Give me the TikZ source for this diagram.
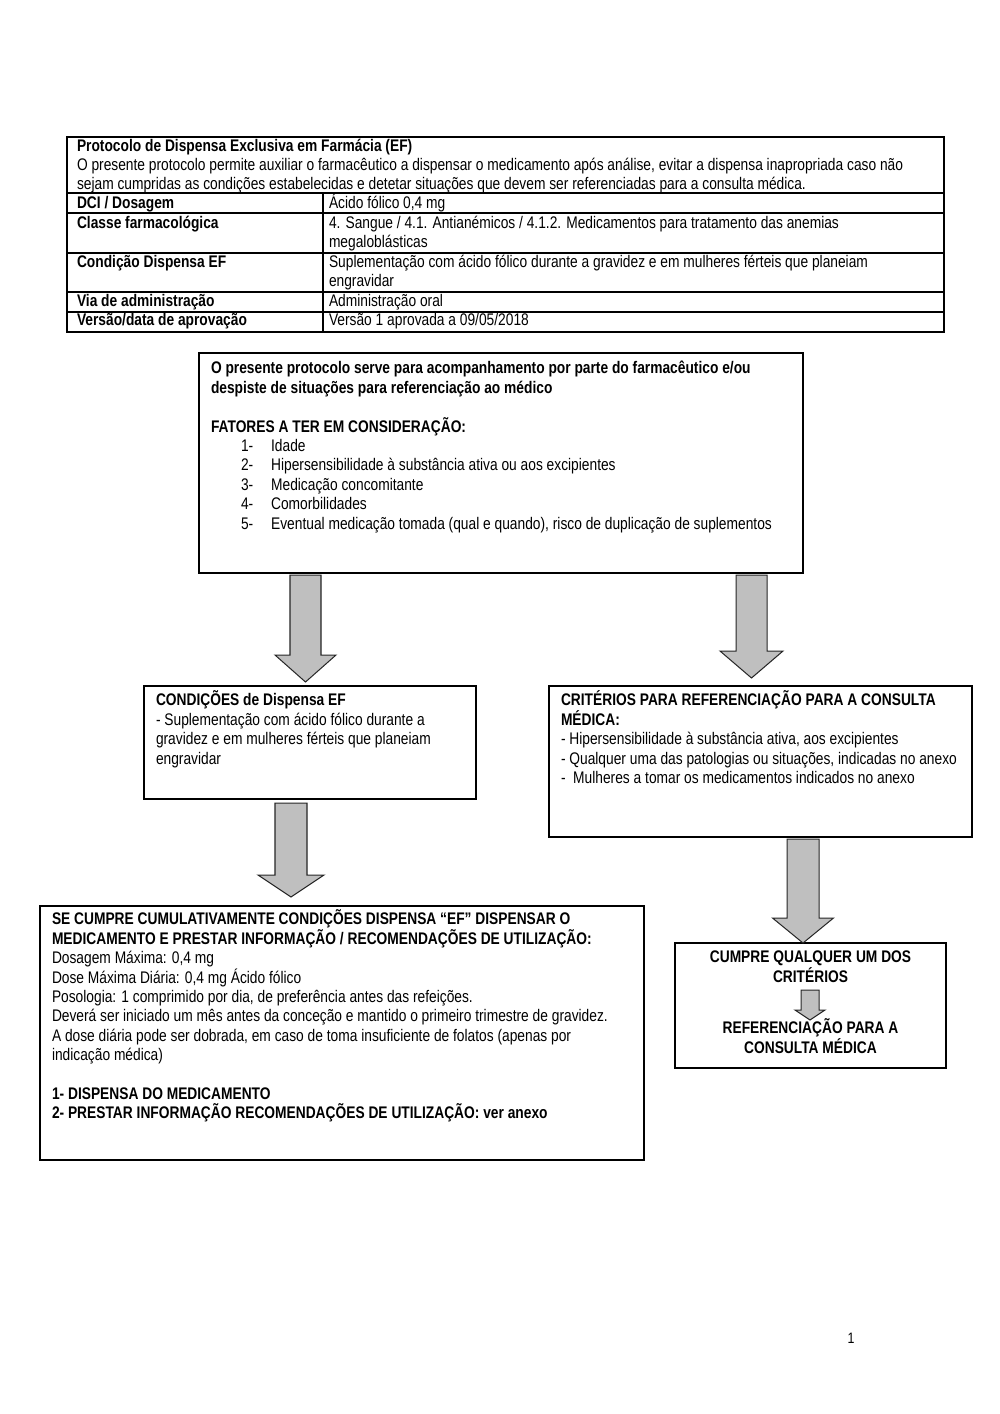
\documentclass[tikz,border=0pt]{standalone}
\usepackage{fontspec}
\setmainfont{Liberation Sans}[FakeStretch=0.82]
\usetikzlibrary{calc,fit}
\newcommand\fst{\rule{0pt}{10pt}}
\newcommand\blockarrow[5]{%
  \draw[barrow] ($(#1)+(-#3,0)$) -- ($(#1)+(#3,0)$) -- ($(#2)+(#3,-#5)$) -- ($(#2)+(#4,-#5)$)
    -- (#2) -- ($(#2)+(-#4,-#5)$) -- ($(#2)+(-#3,-#5)$) -- cycle;}
\begin{document}
\begin{tikzpicture}[x=0.5953pt,y=-0.5953pt,
  txt/.style={anchor=north west, inner sep=0pt, outer sep=0pt, align=left, font=\fontsize{10}{11.55}\selectfont},
  ctxt/.style={anchor=north, inner sep=0pt, outer sep=0pt, align=center, font=\fontsize{10}{11.55}\selectfont\bfseries},
  box/.style={draw=black, line width=0.7pt, inner sep=0pt, outer sep=0pt},
  tline/.style={draw=black, line width=0.7pt},
  barrow/.style={draw=black!85, line width=0.6pt, fill=gray!50, line join=miter}]
\useasboundingbox (0,0) rectangle (1000,1414);
\fill[white] (0,0) rectangle (1000,1414);

% ---------- table ----------
\node[box, fit={(67,137)(944,332)}] (tab) {};
\draw[tline] (67,193) -- (944,193);
\draw[tline] (67,213) -- (944,213);
\draw[tline] (67,253) -- (944,253);
\draw[tline] (67,292) -- (944,292);
\draw[tline] (67,312) -- (944,312);
\draw[tline] (323,193) -- (323,332);

\node[txt] (th) at (77,134.3) {\fst\textbf{Protocolo de Dispensa Exclusiva em Farmácia (EF)}\\
O presente protocolo permite auxiliar o farmacêutico a dispensar o medicamento após análise, evitar a dispensa inapropriada caso não\\
sejam cumpridas as condições estabelecidas e detetar situações que devem ser referenciadas para a consulta médica.};
\node[txt] (r1a) at (77,191.2) {\fst\textbf{DCI / Dosagem}};
\node[txt] (r1b) at (329,191.2) {\fst Ácido fólico 0,4 mg};
\node[txt] (r2a) at (77,211.7) {\fst\textbf{Classe farmacológica}};
\node[txt] (r2b) at (329,211.7) {\fst 4. Sangue / 4.1. Antianémicos / 4.1.2. Medicamentos para tratamento das anemias\\megaloblásticas};
\node[txt] (r3a) at (77,250.7) {\fst\textbf{Condição Dispensa EF}};
\node[txt] (r3b) at (329,250.7) {\fst Suplementação com ácido fólico durante a gravidez e em mulheres férteis que planeiam\\engravidar};
\node[txt] (r4a) at (77,289.7) {\fst\textbf{Via de administração}};
\node[txt] (r4b) at (329,289.7) {\fst Administração oral};
\node[txt] (r5a) at (77,308.7) {\fst\textbf{Versão/data de aprovação}};
\node[txt] (r5b) at (329,308.7) {\fst Versão 1 aprovada a 09/05/2018};

% ---------- boxes ----------
\node[box, fit={(199,353)(803,573)}] (b1) {};
\node[txt] (t1) at (211,357) {\fst\textbf{O presente protocolo serve para acompanhamento por parte do farmacêutico e/ou}\\
\textbf{despiste de situações para referenciação ao médico}\\
\\
\textbf{FATORES A TER EM CONSIDERAÇÃO:}\\
\hspace*{17.9pt}\makebox[17.9pt][l]{1-}Idade\\
\hspace*{17.9pt}\makebox[17.9pt][l]{2-}Hipersensibilidade à substância ativa ou aos excipientes\\
\hspace*{17.9pt}\makebox[17.9pt][l]{3-}Medicação concomitante\\
\hspace*{17.9pt}\makebox[17.9pt][l]{4-}Comorbilidades\\
\hspace*{17.9pt}\makebox[17.9pt][l]{5-}Eventual medicação tomada (qual e quando), risco de duplicação de suplementos};

\node[box, fit={(144,686)(476,799)}] (b2) {};
\node[txt] (t2) at (156,689) {\fst\textbf{CONDIÇÕES de Dispensa EF}\\
- Suplementação com ácido fólico durante a\\
gravidez e em mulheres férteis que planeiam\\
engravidar};

\node[box, fit={(549,686)(972,837)}] (b3) {};
\node[txt] (t3) at (561,689) {\fst\textbf{CRITÉRIOS PARA REFERENCIAÇÃO PARA A CONSULTA}\\
\textbf{MÉDICA:}\\
- Hipersensibilidade à substância ativa, aos excipientes\\
- Qualquer uma das patologias ou situações, indicadas no anexo\\
-\ \ Mulheres a tomar os medicamentos indicados no anexo};

\node[box, fit={(40,906)(644,1160)}] (b4) {};
\node[txt] (t4) at (52,908) {\fst\textbf{SE CUMPRE CUMULATIVAMENTE CONDIÇÕES DISPENSA “EF” DISPENSAR O}\\
\textbf{MEDICAMENTO E PRESTAR INFORMAÇÃO / RECOMENDAÇÕES DE UTILIZAÇÃO:}\\
Dosagem Máxima: 0,4 mg\\
Dose Máxima Diária: 0,4 mg Ácido fólico\\
Posologia: 1 comprimido por dia, de preferência antes das refeições.\\
Deverá ser iniciado um mês antes da conceção e mantido o primeiro trimestre de gravidez.\\
A dose diária pode ser dobrada, em caso de toma insuficiente de folatos (apenas por\\
indicação médica)\\
\\
\textbf{1- DISPENSA DO MEDICAMENTO}\\
\textbf{2- PRESTAR INFORMAÇÃO RECOMENDAÇÕES DE UTILIZAÇÃO: ver anexo}};

\node[box, fit={(675,943)(946,1068)}] (b5) {};
\node[ctxt] (t5a) at (810.5,946) {\fst CUMPRE QUALQUER UM DOS\\CRITÉRIOS};
\node[ctxt] (t5b) at (810.5,1017) {\fst REFERENCIAÇÃO PARA A\\CONSULTA MÉDICA};

% ---------- arrows ----------
\coordinate (a1s) at (305.5,575); \coordinate (a1t) at (305.5,682);
\coordinate (a2s) at (751.5,575); \coordinate (a2t) at (751.5,678);
\coordinate (a3s) at (291,803);   \coordinate (a3t) at (291,897);
\coordinate (a4s) at (803,839);   \coordinate (a4t) at (803,943);
\coordinate (a5s) at (810,990);   \coordinate (a5t) at (810,1020);
\blockarrow{a1s}{a1t}{15.5}{30.5}{27}
\blockarrow{a2s}{a2t}{15.5}{31.5}{27}
\blockarrow{a3s}{a3t}{16}{33}{22}
\blockarrow{a4s}{a4t}{16}{30.5}{25}
\blockarrow{a5s}{a5t}{9}{15}{10}

% page number
\node[inner sep=0pt, font=\fontsize{9}{10}\selectfont] (pg) at (851,1338) {1};
\end{tikzpicture}
\end{document}
